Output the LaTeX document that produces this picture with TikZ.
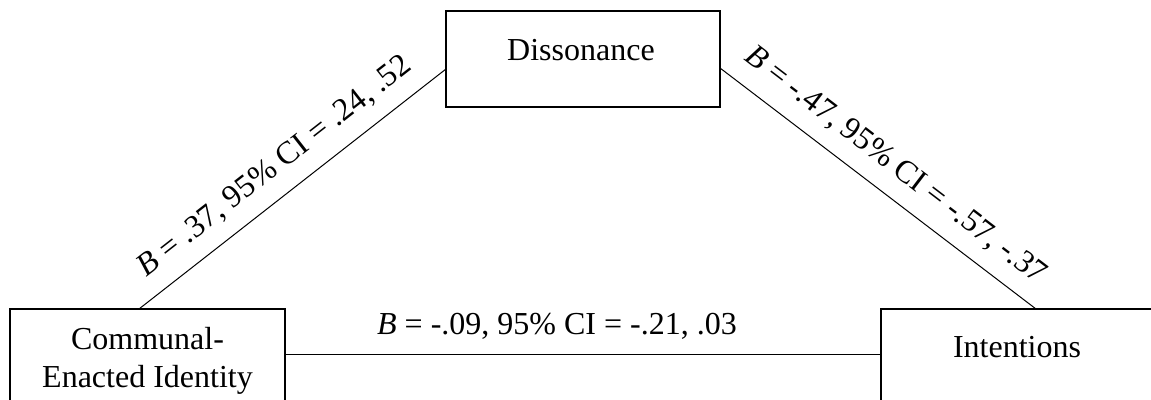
\documentclass[tikz,border=0pt]{standalone}
\usepackage{fontspec}
\setmainfont{Liberation Serif}
\begin{document}
\begin{tikzpicture}[x=0.5pt,y=-0.5pt,
  font=\fontsize{16pt}{19.5pt}\selectfont,
  boxnode/.style={draw, line width=0.7pt, inner sep=0pt, outer sep=0pt},
  txt/.style={anchor=base, inner sep=0pt},
  link/.style={line width=0.5pt},
  lab/.style={midway, sloped, above=4.5pt, inner sep=3pt}
]
\useasboundingbox (0,0) rectangle (1151,400);
\clip (0,0) rectangle (1151,400);
\node[boxnode, minimum width=137pt, minimum height=48pt] (diss) at (583,59) {};
\node[boxnode, minimum width=137.5pt, minimum height=55.5pt] (comm) at (147.5,364.5) {};
\node[boxnode, minimum width=144.5pt, minimum height=55.5pt] (inte) at (1025.5,364.5) {};
\node[txt] (disst) at (581,61) {Dissonance};
\node[txt] (commt1) at (147.5,350) {Communal-};
\node[txt] (commt2) at (147.5,388) {Enacted Identity};
\node[txt] (intet) at (1017,358) {Intentions};
\draw[link] ([xshift=64.5pt]comm.north west) -- ([yshift=-5pt]diss.west)
  node[lab] (labA) {\textit{B} = .37, 95\% CI = .24, .52};
\draw[link] ([yshift=-4.5pt]diss.east) -- ([xshift=77.5pt]inte.north west)
  node[lab] (labB) {\textit{B} = -.47, 95\% CI = -.57, -.37};
\draw[link] ([yshift=4.75pt]comm.east) -- ([yshift=4.75pt]inte.west);
\node[txt] (labC) at (557,335) {\textit{B} = -.09, 95\% CI = -.21, .03};
\end{tikzpicture}
\end{document}
